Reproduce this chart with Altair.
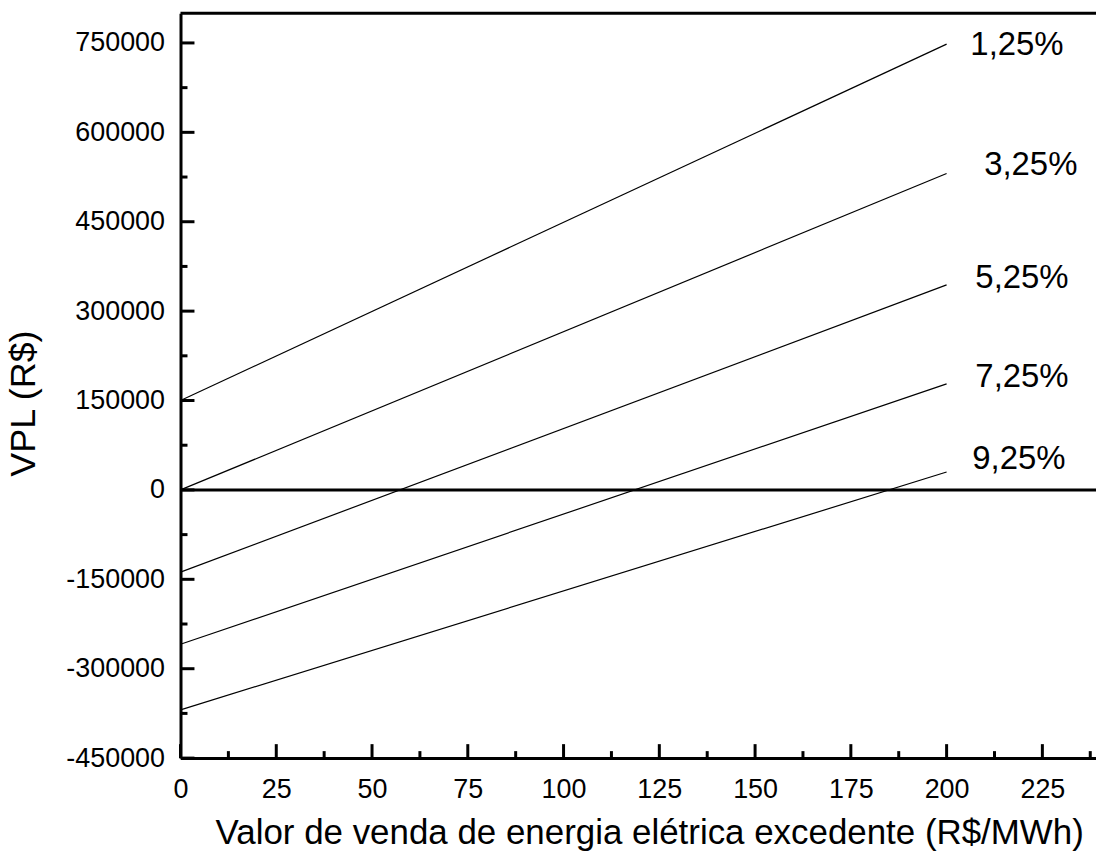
import altair as alt
import pandas as pd

# ---- data ----
rates = ["1,25%", "3,25%", "5,25%", "7,25%", "9,25%"]
x_start = [0, 0, 0, 0, 0]
x_end = [200, 200, 200, 200, 200]
vpl_start = [150000, 0, -138000, -259000, -369000]
vpl_end = [748000, 531000, 344000, 178000, 30000]
label_x = [206.2, 209.8, 207.5, 207.5, 206.7]
label_y = [747000, 545500, 356000, 189000, 51900]

x_major = [0, 25, 50, 75, 100, 125, 150, 175, 200, 225]
x_minor = [12.5, 37.5, 62.5, 87.5, 112.5, 137.5, 162.5, 187.5, 212.5, 237.5]
y_major = [-450000, -300000, -150000, 0, 150000, 300000, 450000, 600000, 750000]
y_minor = [-375000, -225000, -75000, 75000, 225000, 375000, 525000, 675000]

X_DOMAIN = [0, 239]
Y_DOMAIN = [-450000, 800000]
W, H = 918, 747
FONT = "Liberation Sans"

rows = []
for r, xs, xe, ys, ye in zip(rates, x_start, x_end, vpl_start, vpl_end):
    rows.append({"rate": r, "x": xs, "vpl": ys})
    rows.append({"rate": r, "x": xe, "vpl": ye})
lines_df = pd.DataFrame(rows)
labels_df = pd.DataFrame({"rate": rates, "x": label_x, "vpl": label_y})

xs = alt.Scale(domain=X_DOMAIN, nice=False, zero=False)
ys = alt.Scale(domain=Y_DOMAIN, nice=False, zero=False)

x_axis = alt.Axis(
    values=x_major, ticks=False, grid=False, domainWidth=3, domainColor="black",
    labelFont=FONT, labelFontSize=27, labelColor="black", labelPadding=19,
    title="Valor de venda de energia elétrica excedente (R$/MWh)",
    titleFont=FONT, titleFontSize=35, titleFontWeight="normal", titleColor="black",
    titleX=470, titleY=86, titleBaseline="alphabetic", titleAnchor="middle",
    labelFlush=False, labelOverlap=False,
)
y_axis = alt.Axis(
    values=y_major, ticks=False, grid=False, domainWidth=3, domainColor="black",
    labelFont=FONT, labelFontSize=27, labelColor="black", labelPadding=16,
    labelExpr="datum.value + ''",
    title="VPL (R$)", titleFont=FONT, titleFontSize=36, titleFontWeight="normal",
    titleColor="black", titleX=-146, titleY=391, titleAngle=-90,
    titleBaseline="alphabetic", titleAlign="center", titleAnchor="middle",
    labelFlush=False, labelOverlap=False,
)

base_lines = alt.Chart(lines_df).mark_line(color="black", strokeWidth=1.2).encode(
    x=alt.X("x:Q", scale=xs, axis=x_axis),
    y=alt.Y("vpl:Q", scale=ys, axis=y_axis),
    detail="rate:N",
)

zero_line = alt.Chart(pd.DataFrame({"v": [0]})).mark_rule(color="black", strokeWidth=3).encode(
    y=alt.Y("v:Q", scale=ys), x=alt.value(0), x2=alt.value(W)
)

top_border = alt.Chart(pd.DataFrame({"v": [Y_DOMAIN[1]]})).mark_rule(color="black", strokeWidth=3).encode(
    y=alt.Y("v:Q", scale=ys), x=alt.value(0), x2=alt.value(W)
)

y_major_ticks = alt.Chart(pd.DataFrame({"v": y_major})).mark_rule(color="black", strokeWidth=3).encode(
    y=alt.Y("v:Q", scale=ys), x=alt.value(0), x2=alt.value(14)
)
y_minor_ticks = alt.Chart(pd.DataFrame({"v": y_minor})).mark_rule(color="black", strokeWidth=3).encode(
    y=alt.Y("v:Q", scale=ys), x=alt.value(0), x2=alt.value(7)
)
x_major_ticks = alt.Chart(pd.DataFrame({"v": x_major})).mark_rule(color="black", strokeWidth=3).encode(
    x=alt.X("v:Q", scale=xs), y=alt.value(H), y2=alt.value(H - 14)
)
x_minor_ticks = alt.Chart(pd.DataFrame({"v": x_minor})).mark_rule(color="black", strokeWidth=3).encode(
    x=alt.X("v:Q", scale=xs), y=alt.value(H), y2=alt.value(H - 7)
)

labels = alt.Chart(labels_df).mark_text(
    align="left", baseline="middle", font=FONT, fontSize=33, color="black"
).encode(
    x=alt.X("x:Q", scale=xs), y=alt.Y("vpl:Q", scale=ys), text="rate:N"
)

chart = alt.layer(
    base_lines, zero_line, top_border,
    y_major_ticks, y_minor_ticks, x_major_ticks, x_minor_ticks, labels,
).properties(
    width=W, height=H,
    autosize=alt.AutoSizeParams(type="none"),
    padding={"left": 181, "top": 12, "right": 0, "bottom": 102},
    background="white",
).configure_view(stroke=None)

chart.save("out.html", embed_options={"renderer": "svg", "actions": False})
